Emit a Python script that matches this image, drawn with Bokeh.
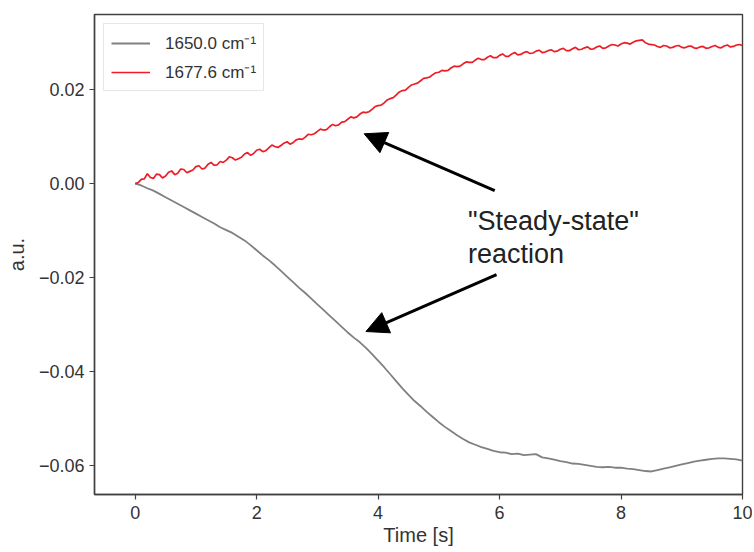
from bokeh.plotting import figure
from bokeh.models import (Arrow, NormalHead, Label, FixedTicker, CustomJSTickFormatter,
                          Range1d, Legend, LegendItem)
from bokeh.embed import file_html
from bokeh.resources import INLINE

# ---- data ----
time_1650 = [round(0.1 * i, 1) for i in range(101)]
time_1677 = [round(0.05 * i, 2) for i in range(201)]

absorb_1650 = [
    0.0000, -0.0004, -0.0010, -0.0015, -0.0022, -0.0029, -0.0036, -0.0043, -0.0050, -0.0057,
    -0.0064, -0.0071, -0.0078, -0.0085, -0.0093, -0.0099, -0.0105, -0.0113, -0.0121, -0.0131,
    -0.0142, -0.0153, -0.0163, -0.0174, -0.0186, -0.0198, -0.0210, -0.0222, -0.0233, -0.0245,
    -0.0257, -0.0269, -0.0281, -0.0293, -0.0305, -0.0317, -0.0328, -0.0338, -0.0350, -0.0363,
    -0.0377, -0.0391, -0.0406, -0.0421, -0.0436, -0.0450, -0.0463, -0.0474, -0.0486, -0.0497,
    -0.0508, -0.0518, -0.0527, -0.0536, -0.0544, -0.0551, -0.0556, -0.0561, -0.0565, -0.0569,
    -0.0572, -0.0573, -0.0576, -0.0575, -0.0578, -0.0577, -0.0576, -0.0583, -0.0585, -0.0588,
    -0.0591, -0.0593, -0.0596, -0.0597, -0.0599, -0.0601, -0.0603, -0.0604, -0.0603, -0.0605,
    -0.0605, -0.0607, -0.0608, -0.0610, -0.0612, -0.0613, -0.0610, -0.0607, -0.0604, -0.0601,
    -0.0598, -0.0595, -0.0592, -0.0590, -0.0588, -0.0586, -0.0585, -0.0585, -0.0586, -0.0587,
    -0.0590,
]

absorb_1677 = [
    0.0000, 0.0002, 0.0009, 0.0010, 0.0021, 0.0013, 0.0011, 0.0020, 0.0019, 0.0012,
    0.0016, 0.0024, 0.0027, 0.0019, 0.0022, 0.0031, 0.0030, 0.0023, 0.0026, 0.0029,
    0.0036, 0.0038, 0.0031, 0.0033, 0.0041, 0.0045, 0.0039, 0.0040, 0.0047, 0.0045,
    0.0050, 0.0057, 0.0055, 0.0050, 0.0053, 0.0056, 0.0063, 0.0066, 0.0060, 0.0064,
    0.0071, 0.0073, 0.0068, 0.0070, 0.0076, 0.0082, 0.0079, 0.0077, 0.0081, 0.0086,
    0.0089, 0.0084, 0.0087, 0.0093, 0.0095, 0.0094, 0.0099, 0.0105, 0.0104, 0.0106,
    0.0111, 0.0116, 0.0114, 0.0115, 0.0121, 0.0126, 0.0123, 0.0125, 0.0131, 0.0132,
    0.0137, 0.0142, 0.0140, 0.0142, 0.0148, 0.0152, 0.0151, 0.0153, 0.0158, 0.0164,
    0.0166, 0.0167, 0.0172, 0.0178, 0.0181, 0.0183, 0.0189, 0.0195, 0.0198, 0.0199,
    0.0205, 0.0210, 0.0212, 0.0214, 0.0219, 0.0224, 0.0225, 0.0227, 0.0232, 0.0236,
    0.0237, 0.0241, 0.0240, 0.0241, 0.0246, 0.0250, 0.0249, 0.0250, 0.0255, 0.0259,
    0.0258, 0.0258, 0.0263, 0.0267, 0.0264, 0.0264, 0.0269, 0.0272, 0.0268, 0.0268,
    0.0273, 0.0276, 0.0271, 0.0271, 0.0276, 0.0279, 0.0274, 0.0275, 0.0279, 0.0281,
    0.0277, 0.0278, 0.0282, 0.0284, 0.0279, 0.0280, 0.0283, 0.0285, 0.0281, 0.0282,
    0.0286, 0.0288, 0.0283, 0.0283, 0.0287, 0.0290, 0.0285, 0.0286, 0.0289, 0.0291,
    0.0286, 0.0287, 0.0291, 0.0293, 0.0288, 0.0289, 0.0293, 0.0296, 0.0295, 0.0293,
    0.0297, 0.0300, 0.0299, 0.0297, 0.0301, 0.0304, 0.0305, 0.0306, 0.0300, 0.0297,
    0.0296, 0.0295, 0.0292, 0.0290, 0.0294, 0.0293, 0.0289, 0.0290, 0.0293, 0.0294,
    0.0290, 0.0289, 0.0292, 0.0293, 0.0289, 0.0288, 0.0291, 0.0292, 0.0288, 0.0289,
    0.0292, 0.0294, 0.0290, 0.0289, 0.0293, 0.0295, 0.0291, 0.0292, 0.0295, 0.0296,
    0.0294,
]

series_labels = ["1650.0 cm\u207b\u00b9", "1677.6 cm\u207b\u00b9"]
x_ticks = [0, 2, 4, 6, 8, 10]
y_ticks = [-0.06, -0.04, -0.02, 0.0, 0.02]

annotation_lines = ['"Steady-state"', "reaction"]
annotation_pos = (5.48, [-0.0079, -0.0149])
arrow_tails = [(5.92, -0.0015), (5.95, -0.0194)]
arrow_tips = [(3.77, 0.0106), (3.80, -0.0315)]

FONT = "Liberation Sans"
AX = "#404040"

p = figure(width=752, height=552, output_backend="svg", toolbar_location=None,
           x_range=Range1d(-0.67, 10.0), y_range=Range1d(-0.0662, 0.036),
           min_border_left=94, min_border_top=14, min_border_right=10, min_border_bottom=58)
p.background_fill_color = "white"
p.border_fill_color = "white"
p.grid.visible = False
p.outline_line_color = AX
p.outline_line_width = 1.4

for ax in (p.xaxis[0], p.yaxis[0]):
    ax.axis_line_color = AX
    ax.axis_line_width = 1.4
    ax.major_tick_line_color = AX
    ax.major_tick_line_width = 1.2
    ax.major_tick_out = 5
    ax.major_tick_in = 0
    ax.minor_tick_out = 0
    ax.minor_tick_in = 0
    ax.major_label_text_font = FONT
    ax.major_label_text_font_size = "18px"
    ax.major_label_text_color = "#333333"
    ax.axis_label_text_font = FONT
    ax.axis_label_text_font_size = "20px"
    ax.axis_label_text_font_style = "normal"
    ax.axis_label_text_color = "#333333"

p.xaxis.ticker = FixedTicker(ticks=x_ticks)
p.yaxis.ticker = FixedTicker(ticks=y_ticks)
p.xaxis.axis_label = "Time [s]"
p.yaxis.axis_label = "a.u."
p.xaxis.major_label_standoff = 6
p.xaxis.axis_label_standoff = 2
p.yaxis.major_label_standoff = 5
p.yaxis.axis_label_standoff = 8
p.yaxis.formatter = CustomJSTickFormatter(
    code="return (tick < -1e-9 ? '\u2212' : '') + Math.abs(tick).toFixed(2);")

r1 = p.line(time_1650, absorb_1650, line_color="#808080", line_width=1.8)
r2 = p.line(time_1677, absorb_1677, line_color="#ee1c25", line_width=1.7)

legend = Legend(items=[LegendItem(label=series_labels[0], renderers=[r1]),
                       LegendItem(label=series_labels[1], renderers=[r2])],
                location="top_left", margin=9, padding=7, spacing=6,
                glyph_width=39, glyph_height=20, label_standoff=15,
                label_text_font=FONT, label_text_font_size="17px",
                label_text_color="#333333",
                border_line_color="#d0d0d0", border_line_width=1,
                background_fill_alpha=0.9)
p.add_layout(legend)

for (xs, ys), (xe, ye) in zip(arrow_tails, arrow_tips):
    p.add_layout(Arrow(x_start=xs, y_start=ys, x_end=xe, y_end=ye,
                       line_color="black", line_width=3,
                       end=NormalHead(size=22, fill_color="black", line_color="black",
                                      line_width=1)))

for txt, yy in zip(annotation_lines, annotation_pos[1]):
    p.add_layout(Label(x=annotation_pos[0], y=yy, text=txt, text_font=FONT,
                       text_font_size="27px", text_color="#222222",
                       text_baseline="middle", text_align="left"))

open("out.html", "w").write(file_html(p, INLINE))
